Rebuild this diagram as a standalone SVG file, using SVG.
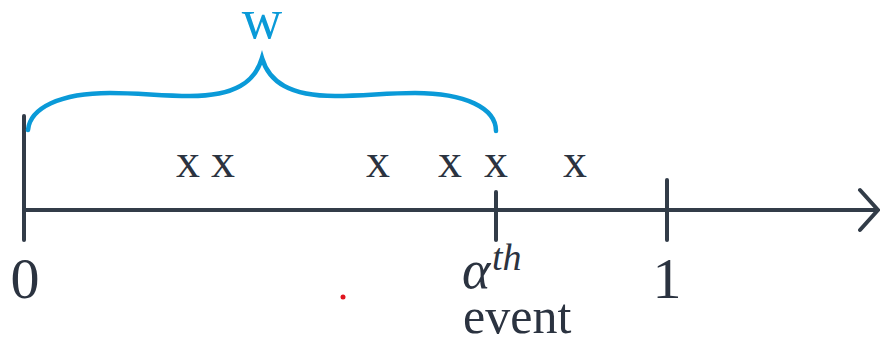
<svg xmlns="http://www.w3.org/2000/svg" width="880" height="341" viewBox="0 0 880 341">
<style>
.ax{stroke:#323c48;stroke-width:4;stroke-linecap:round;fill:none}
.br{stroke:#0a9ad8;stroke-width:4.5;stroke-linecap:round;fill:none}
text{font-family:'Liberation Serif','Times New Roman','DejaVu Serif',serif;fill:#2b3340}
.x{font-size:48px;text-anchor:middle}
</style>
<rect width="880" height="341" fill="#fff"/>
<g id="connectors">
<line class="ax" x1="24" y1="210" x2="876" y2="210"/>
<polyline class="ax" points="860,190 878,210 860,230"/>
</g>
<g id="axis-start"><line class="ax" x1="24" y1="116" x2="24" y2="240"/></g>
<g id="tick-alpha"><line class="ax" x1="496" y1="192" x2="496" y2="240"/></g>
<g id="tick-one"><line class="ax" x1="667" y1="180" x2="667" y2="240"/></g>
<g id="brace">
<path class="br" d="M28,130 C30,108 60,93 110,93 C140,93 160,96 190,96 C235,96 255,82 262,58 C269,82 290,96 335,96 C365,96 385,93 415,93 C465,93 496,108 496,131"/>
<text x="262" y="38" font-size="56" text-anchor="middle" fill="#0a9ad8" style="fill:#0a9ad8">w</text>
</g>
<g id="events" class="x">
<text x="188" y="177">x</text>
<text x="223" y="177">x</text>
<text x="378" y="177">x</text>
<text x="450" y="177">x</text>
<text x="496" y="177">x</text>
<text x="575" y="177">x</text>
</g>
<g id="label-zero"><text x="25" y="298" font-size="58" text-anchor="middle">0</text></g>
<g id="label-one"><text x="667" y="298" font-size="58" text-anchor="middle">1</text></g>
<g id="label-alpha">
<text x="462" y="288" font-size="54" font-style="italic">α</text>
<text x="492" y="270" font-size="38" font-style="italic">th</text>
<text x="463" y="333" font-size="50">event</text>
</g>
<circle cx="343" cy="297" r="2.5" fill="#e0141e"/>
</svg>
